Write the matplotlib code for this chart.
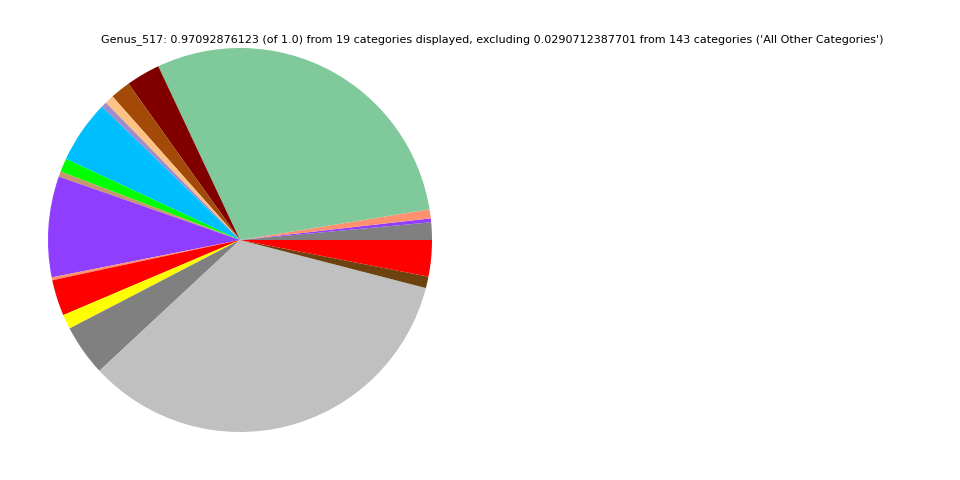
import matplotlib
matplotlib.use('Agg')
import matplotlib.pyplot as plt

# slice fractions, counterclockwise from 3 o'clock
fractions = [0.0143, 0.0032, 0.0073, 0.2859, 0.0278, 0.0165, 0.0073, 0.0046,
             0.0512, 0.0111, 0.0043, 0.0823, 0.0024, 0.0294, 0.0119, 0.0418,
             0.3306, 0.0094, 0.0297]
colors = ["#808080", "#8f3dff", "#ff9070", "#80c99b", "#800000", "#a34a08",
          "#ffc285", "#a08cc8", "#00bfff", "#00ff00", "#c8966e", "#8f3dff",
          "#ff9070", "#ff0000", "#ffff00", "#808080", "#c0c0c0", "#6e420f",
          "#ff0000"]

title = ("Genus_517: 0.97092876123 (of 1.0) from 19 categories displayed, "
         "excluding 0.0290712387701 from 143 categories ('All Other Categories')")

fig = plt.figure(figsize=(9.6, 4.8), dpi=100)
ax = fig.add_axes([0, 0, 0.5, 1])
ax.pie(fractions, colors=colors, startangle=0, counterclock=True,
       wedgeprops=dict(linewidth=0))
ax.set_aspect('equal')

fig.text(0.5125, 0.917, title, ha='center', va='center', fontsize=8)

fig.savefig('out.png', dpi=100)
